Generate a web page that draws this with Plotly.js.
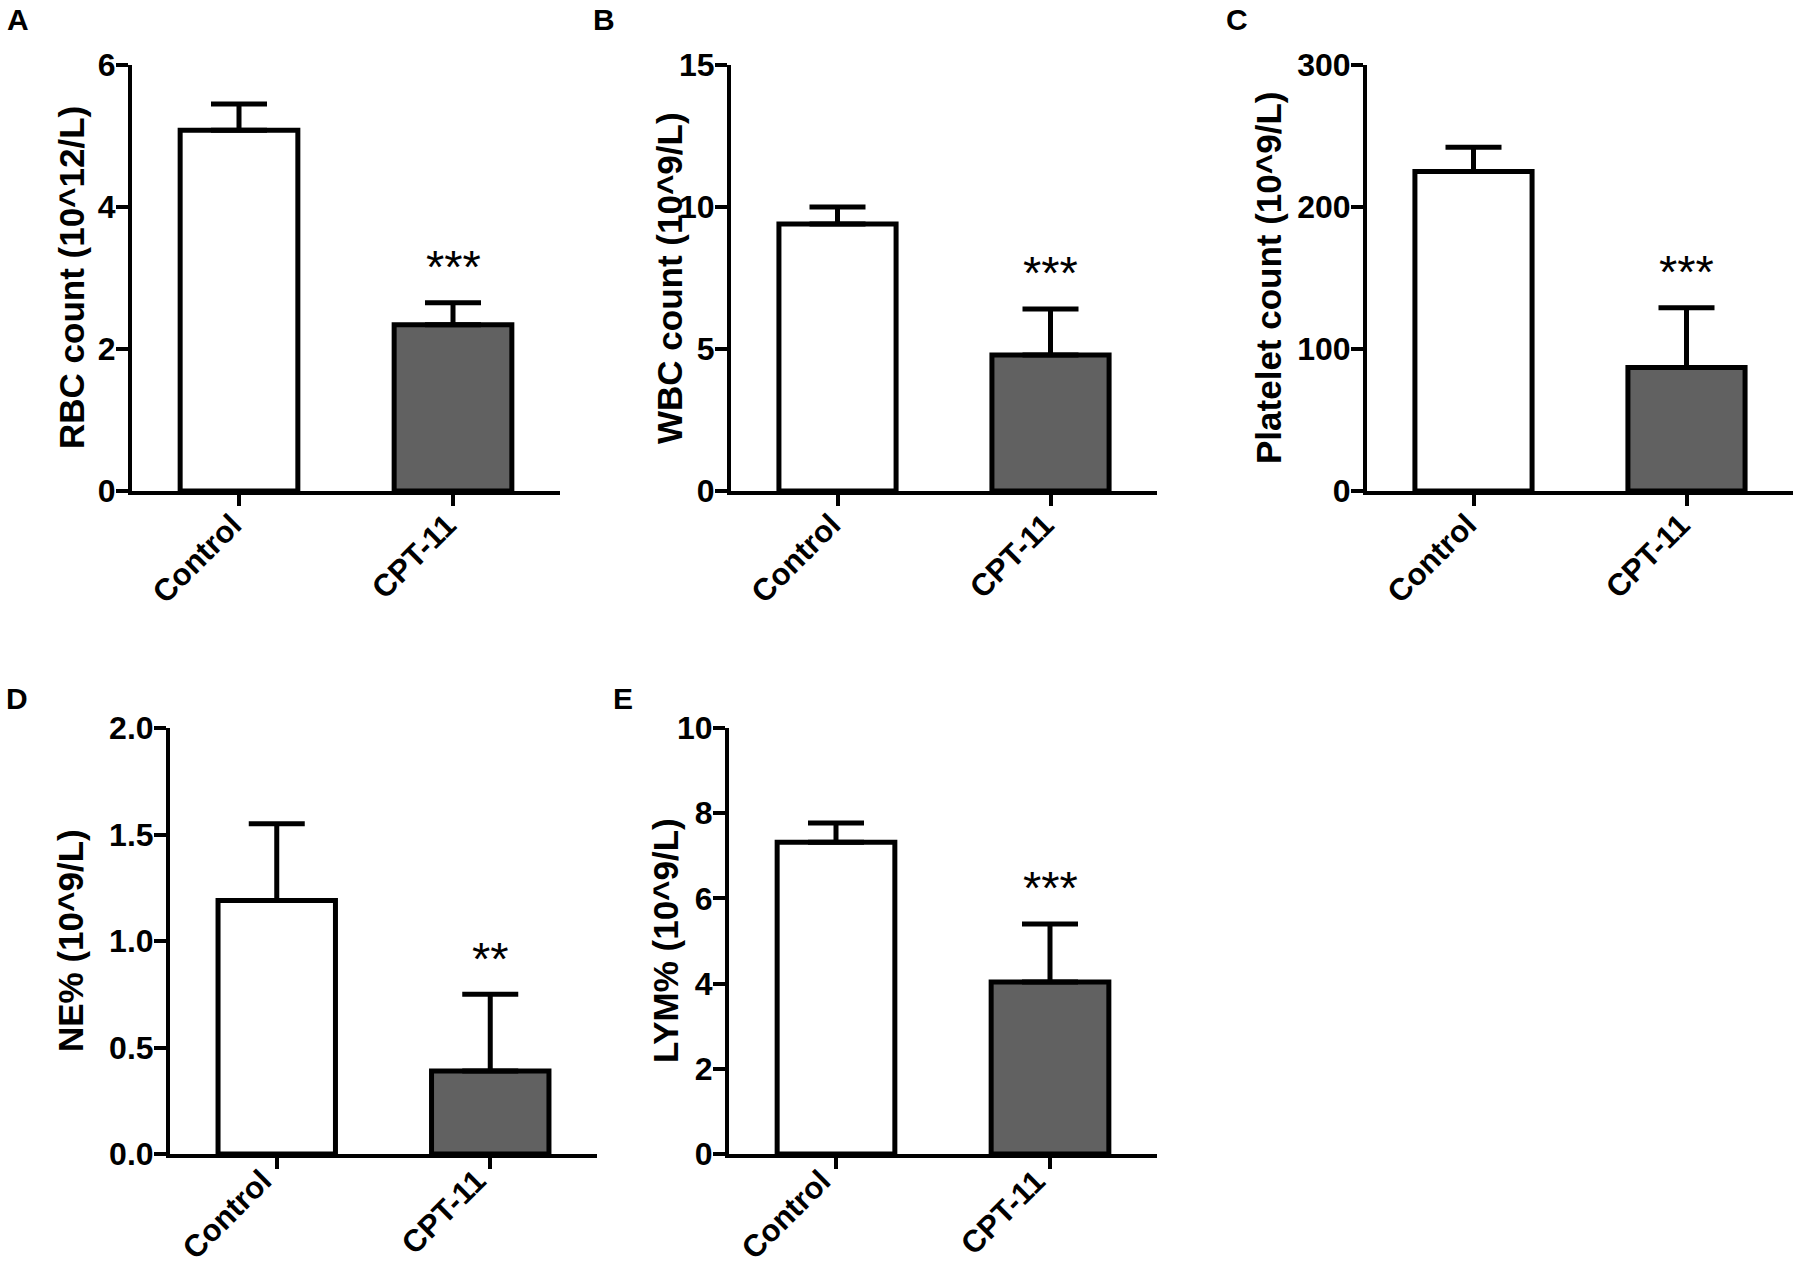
<!DOCTYPE html>
<html>
<head>
<meta charset="utf-8">
<script src="https://cdn.plot.ly/plotly-3.0.1.min.js"></script>
<style>
  html, body { margin: 0; padding: 0; background: #ffffff; }
  #chart { width: 1800px; height: 1272px; }
</style>
</head>
<body>
<div id="chart"></div>
<script>
// ---- data ----
const categories = ['Control', 'CPT-11'];

const rbcMean = [5.08, 2.34];
const rbcSD   = [0.37, 0.31];

const wbcMean = [9.40, 4.79];
const wbcSD   = [0.60, 1.62];

const pltMean = [225, 87];
const pltSD   = [17, 42];

const neMean  = [1.19, 0.39];
const neSD    = [0.36, 0.36];

const lymMean = [7.32, 4.04];
const lymSD   = [0.45, 1.36];

const yTitles   = ['RBC count (10^12/L)', 'WBC count (10^9/L)', 'Platelet count (10^9/L)', 'NE% (10^9/L)', 'LYM% (10^9/L)'];
const yRanges   = [[0, 6], [0, 15], [0, 300], [0, 2], [0, 10]];
const yTickVals = [[0, 2, 4, 6], [0, 5, 10, 15], [0, 100, 200, 300], [0, 0.5, 1.0, 1.5, 2.0], [0, 2, 4, 6, 8, 10]];
const sigLabels = ['***', '***', '***', '**', '***'];
const panelLetters = ['A', 'B', 'C', 'D', 'E'];

const means = [rbcMean, wbcMean, pltMean, neMean, lymMean];
const sds   = [rbcSD, wbcSD, pltSD, neSD, lymSD];

// ---- layout geometry (pixels in the 1800x1272 canvas) ----
const W = 1800, H = 1272;
const boxes = [
  { x0: 132,  x1: 560,  y0: 65,  y1: 491 },
  { x0: 731,  x1: 1157, y0: 65,  y1: 491 },
  { x0: 1367, x1: 1793, y0: 65,  y1: 491 },
  { x0: 170,  x1: 597,  y0: 728, y1: 1154 },
  { x0: 729,  x1: 1157, y0: 728, y1: 1154 }
];
const labelShiftX = [11, 11, 11, 3, 3];
const labelShiftY = [-15, -15, -15, -8, -8];
const titlePos  = [[71, 278], [669, 278], [1268, 278], [70, 941], [665, 941]];
const letterPos = [[18, 19], [604, 19], [1237, 20], [17, 698], [623, 698]];

const FONT = 'Liberation Sans, Arial, Helvetica, sans-serif';
const fillColors = ['#ffffff', '#616161'];

const traces = [];
const layout = {
  width: W, height: H,
  margin: { l: 0, r: 0, t: 0, b: 0 },
  paper_bgcolor: '#ffffff',
  plot_bgcolor: '#ffffff',
  showlegend: false,
  font: { family: FONT, color: '#000000' },
  annotations: []
};

for (let i = 0; i < 5; i++) {
  const n = i === 0 ? '' : String(i + 1);
  const xa = 'x' + n, ya = 'y' + n;
  traces.push({
    type: 'bar',
    x: categories,
    y: means[i],
    xaxis: xa, yaxis: ya,
    width: 0.55,
    marker: { color: fillColors, line: { color: '#000000', width: 5 } },
    error_y: {
      type: 'data', symmetric: false,
      array: sds[i], arrayminus: [0, 0],
      color: '#000000', thickness: 5, width: 28
    },
    hoverinfo: 'skip'
  });
  const b = boxes[i];
  const yDom = [1 - b.y1 / H, 1 - b.y0 / H];
  layout['xaxis' + n] = {
    domain: [b.x0 / W, b.x1 / W],
    anchor: ya,
    type: 'category',
    range: [-0.5, 1.5],
    showline: true, linecolor: '#000000', linewidth: 4,
    ticks: 'outside', ticklen: 11, tickwidth: 4, tickcolor: '#000000',
    showticklabels: false,
    showgrid: false, zeroline: false, fixedrange: true
  };
  layout['yaxis' + n] = {
    domain: yDom,
    anchor: xa,
    range: yRanges[i],
    tickmode: 'array',
    tickvals: yTickVals[i],
    tickformat: i === 3 ? '.1f' : '',
    showline: true, linecolor: '#000000', linewidth: 4,
    ticks: 'outside', ticklen: 12, tickwidth: 4, tickcolor: '#000000',
    ticklabelstandoff: -6,
    tickfont: { family: FONT, size: 32, weight: 700, color: '#000000' },
    showgrid: false, zeroline: false, fixedrange: true
  };
  // rotated category labels under each tick
  categories.forEach(function (c) {
    layout.annotations.push({
      xref: xa, yref: 'paper',
      x: c, y: yDom[0],
      xanchor: 'right', yanchor: 'top',
      xshift: labelShiftX[i], yshift: labelShiftY[i],
      borderpad: 0,
      textangle: -45, showarrow: false,
      text: c,
      font: { family: FONT, size: 31, weight: 700, color: '#000000' }
    });
  });
  // y-axis title
  layout.annotations.push({
    xref: 'paper', yref: 'paper',
    x: titlePos[i][0] / W, y: 1 - titlePos[i][1] / H,
    xanchor: 'center', yanchor: 'middle',
    textangle: -90, showarrow: false,
    text: yTitles[i],
    font: { family: FONT, size: 35, weight: 700, color: '#000000' }
  });
  // significance stars above CPT-11 error bar
  layout.annotations.push({
    xref: xa, yref: ya,
    x: categories[1], y: means[i][1] + sds[i][1],
    xanchor: 'center', yanchor: 'middle',
    yshift: 36, showarrow: false,
    text: sigLabels[i],
    font: { family: FONT, size: 47, color: '#000000' }
  });
  // panel letter
  layout.annotations.push({
    xref: 'paper', yref: 'paper',
    x: letterPos[i][0] / W, y: 1 - letterPos[i][1] / H,
    xanchor: 'center', yanchor: 'middle',
    showarrow: false,
    text: panelLetters[i],
    font: { family: FONT, size: 30, weight: 700, color: '#000000' }
  });
}

Plotly.newPlot('chart', traces, layout, { displayModeBar: false, staticPlot: true });
</script>
</body>
</html>
